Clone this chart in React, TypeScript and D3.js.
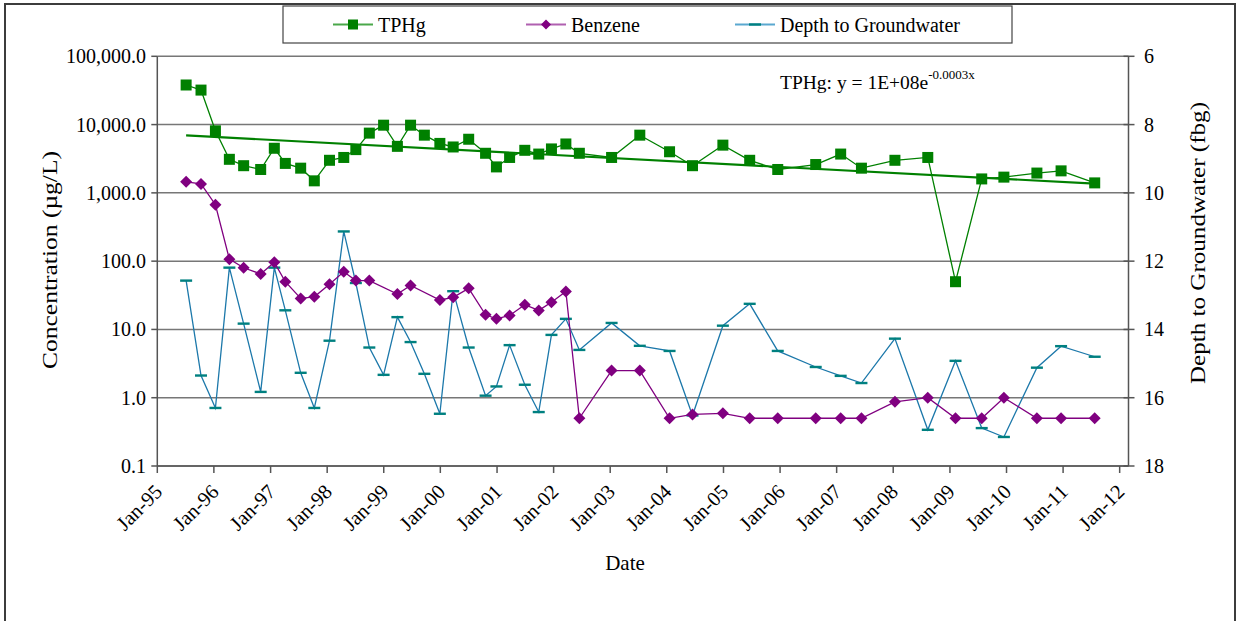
import React from "react";
import * as d3 from "d3";

// Sampling dates shared by all three series
const DATES = [
  "1995-07-06", "1995-10-10", "1996-01-11", "1996-04-10", "1996-07-11", "1996-10-29",
  "1997-01-25", "1997-04-06", "1997-07-14", "1997-10-10", "1998-01-16", "1998-04-18",
  "1998-07-05", "1998-09-30", "1998-12-31", "1999-03-30", "1999-06-23", "1999-09-20",
  "1999-12-29", "2000-03-24", "2000-07-02", "2000-10-19", "2000-12-28", "2001-03-23",
  "2001-06-29", "2001-09-27", "2001-12-18", "2002-03-21", "2002-06-16", "2003-01-10",
  "2003-07-11", "2004-01-19", "2004-06-15", "2004-12-28", "2005-06-19", "2005-12-17",
  "2006-08-19", "2007-01-27", "2007-06-10", "2008-01-12", "2008-08-11", "2009-02-06",
  "2009-07-25", "2009-12-15", "2010-07-16", "2010-12-19", "2011-07-24",
];

// TPHg concentration (µg/L)
const TPHG = [
  38000, 32000, 8100, 3100, 2500, 2200, 4500, 2700, 2300, 1500, 3000, 3300,
  4300, 7500, 9800, 4800, 9800, 7000, 5300, 4700, 6100, 3800, 2400, 3300,
  4200, 3700, 4400, 5200, 3800, 3300, 7000, 4000, 2500, 5000, 3000, 2200,
  2600, 3700, 2300, 3000, 3300, 50, 1600, 1700, 1950, 2100, 1400,
];

// Benzene concentration (µg/L); null = not sampled
const BENZENE: (number | null)[] = [
  1450, 1350, 670, 107, 80, 65, 96, 50, 28.5, 30, 46, 70,
  52, 52, null, 33, 44, null, 27, 29.5, 40, 16.4, 14.3, 16,
  23, 19, 25, 36, 0.5, 2.5, 2.5, 0.5, 0.57, 0.59, 0.5, 0.5,
  0.5, 0.5, 0.5, 0.87, 1.0, 0.5, 0.5, 1.0, 0.5, 0.5, 0.5,
];

// Depth to groundwater (feet below grade)
const DTW = [
  12.57, 15.35, 16.3, 12.19, 13.83, 15.83, 12.19, 13.44, 15.27, 16.3, 14.33, 11.13,
  12.64, 14.53, 15.33, 13.64, 14.37, 15.3, 16.47, 12.88, 14.53, 15.94, 15.67, 14.46,
  15.62, 16.42, 14.16, 13.69, 14.6, 13.81, 14.48, 14.63, 16.52, 13.89, 13.25, 14.63,
  15.1, 15.36, 15.57, 14.27, 16.94, 14.92, 16.89, 17.15, 15.12, 14.49, 14.8,
];

const CONC_TICKS = [0.1, 1, 10, 100, 1000, 10000, 100000];
const DEPTH_TICKS = [6, 8, 10, 12, 14, 16, 18];
const YEARS = d3.range(1995, 2013);

const SERIES_NAMES = ["TPHg", "Benzene", "Depth to Groundwater"];

const W = 1242;
const H = 621;
const PLOT = { left: 157.3, right: 1128.5, top: 56.3, bottom: 466 };

const GREEN = "#008000";
const PURPLE = "#800080";
const DTW_LINE = "#1c78aa";
const DTW_MARK = "#008080";
const GRID = "#777777";
const FONT = "Liberation Serif, serif";

const parse = d3.utcParse("%Y-%m-%d");
const dates = DATES.map((s) => parse(s) as Date);

const x = d3
  .scaleUtc()
  .domain([new Date(Date.UTC(1995, 0, 1)), new Date(Date.UTC(2012, 1, 27))])
  .range([PLOT.left, PLOT.right]);
const yConc = d3.scaleLog().domain([0.1, 100000]).range([PLOT.bottom, PLOT.top]);
const yDepth = d3.scaleLinear().domain([6, 18]).range([PLOT.top, PLOT.bottom]);

type Pt = { d: Date; v: number };
const tphgPts: Pt[] = dates.map((d, i) => ({ d, v: TPHG[i] }));
const benzPts: Pt[] = dates
  .map((d, i) => ({ d, v: BENZENE[i] as number }))
  .filter((p) => p.v != null);
const dtwPts: Pt[] = dates.map((d, i) => ({ d, v: DTW[i] }));

const concLine = d3
  .line<Pt>()
  .x((p) => x(p.d))
  .y((p) => yConc(p.v));
const depthLine = d3
  .line<Pt>()
  .x((p) => x(p.d))
  .y((p) => yDepth(p.v));

// Exponential least-squares fit on ln(TPHg) against Excel serial days
const DAY = 86400000;
const EXCEL_EPOCH = Date.UTC(1899, 11, 30);
const serial = (d: Date) => (d.getTime() - EXCEL_EPOCH) / DAY;
const fit = (() => {
  const xs = tphgPts.map((p) => serial(p.d));
  const ys = tphgPts.map((p) => Math.log(p.v));
  const mx = d3.mean(xs) as number;
  const my = d3.mean(ys) as number;
  let sxy = 0;
  let sxx = 0;
  xs.forEach((xi, i) => {
    sxy += (xi - mx) * (ys[i] - my);
    sxx += (xi - mx) * (xi - mx);
  });
  const b = sxy / sxx;
  const a = Math.exp(my - b * mx);
  return { a, b };
})();
const trendEnds = [tphgPts[0].d, tphgPts[tphgPts.length - 1].d].map((d) => ({
  d,
  v: fit.a * Math.exp(fit.b * serial(d)),
}));

const fmtConc = d3.format(",.1f");
const fmtYear = d3.utcFormat("%b-%y");

const diamond = (r: number) => `M0,${-r}L${r},0L0,${r}L${-r},0Z`;

function Square({ cx, cy }: { cx: number; cy: number }) {
  return <rect x={cx - 5.5} y={cy - 5.5} width={11} height={11} fill={GREEN} />;
}
function Diamond({ cx, cy }: { cx: number; cy: number }) {
  return <path d={diamond(6)} transform={`translate(${cx},${cy})`} fill={PURPLE} />;
}
function Dash({ cx, cy }: { cx: number; cy: number }) {
  return <rect x={cx - 6} y={cy - 1.2} width={12} height={2.4} fill={DTW_MARK} />;
}

const textStyle = { fontFamily: FONT };

export default function App() {
  const legendItems = [
    { name: SERIES_NAMES[0], lx: 333, tx: 378, color: "#4aa84a", mark: "square" },
    { name: SERIES_NAMES[1], lx: 526, tx: 571, color: "#b060b0", mark: "diamond" },
    { name: SERIES_NAMES[2], lx: 735, tx: 780, color: "#5aa8d0", mark: "dash" },
  ];
  const legendY = 24.5;

  return (
    <svg
      width={W}
      height={H}
      style={{ position: "absolute", left: 0, top: 0, background: "#fff", fontFamily: FONT }}
    >
      {/* outer frame */}
      <rect x={5} y={4} width={1230} height={660} fill="none" stroke="#3c3c3c" strokeWidth={2} />

      {/* legend */}
      <rect x={283} y={6} width={729} height={37} fill="#fff" stroke="#444" strokeWidth={1.2} />
      {legendItems.map((it) => (
        <g key={it.name}>
          <line x1={it.lx} x2={it.lx + 40} y1={legendY} y2={legendY} stroke={it.color} strokeWidth={2} />
          {it.mark === "square" && (
            <rect x={it.lx + 15} y={legendY - 5} width={10} height={10} fill={GREEN} />
          )}
          {it.mark === "diamond" && (
            <path d={diamond(5)} transform={`translate(${it.lx + 20},${legendY})`} fill={PURPLE} />
          )}
          {it.mark === "dash" && (
            <rect x={it.lx + 14} y={legendY - 1.2} width={12} height={2.4} fill={DTW_MARK} />
          )}
          <text x={it.tx} y={legendY} dy="0.35em" fontSize={20} fill="#000" style={textStyle}>
            {it.name}
          </text>
        </g>
      ))}

      {/* horizontal gridlines */}
      {CONC_TICKS.map((t) => (
        <line
          key={t}
          x1={PLOT.left}
          x2={PLOT.right}
          y1={yConc(t)}
          y2={yConc(t)}
          stroke={GRID}
          strokeWidth={1.5}
        />
      ))}

      {/* axes lines */}
      <line x1={PLOT.left} x2={PLOT.left} y1={PLOT.top} y2={PLOT.bottom} stroke="#555" strokeWidth={1.5} />
      <line x1={PLOT.right} x2={PLOT.right} y1={PLOT.top} y2={PLOT.bottom} stroke="#555" strokeWidth={1.5} />
      <line x1={PLOT.left} x2={PLOT.right} y1={PLOT.bottom} y2={PLOT.bottom} stroke="#555" strokeWidth={1.5} />

      {/* left axis ticks and labels */}
      {CONC_TICKS.map((t) => (
        <g key={t} transform={`translate(0,${yConc(t)})`}>
          <line x1={PLOT.left - 6} x2={PLOT.left} stroke="#555" strokeWidth={1.5} />
          <text x={146} dy="0.35em" textAnchor="end" fontSize={20} fill="#000" style={textStyle}>
            {fmtConc(t)}
          </text>
        </g>
      ))}

      {/* right axis ticks and labels */}
      {DEPTH_TICKS.map((t) => (
        <g key={t} transform={`translate(0,${yDepth(t)})`}>
          <line x1={PLOT.right - 5} x2={PLOT.right + 6} stroke="#555" strokeWidth={1.5} />
          <text x={1144} dy="0.35em" textAnchor="start" fontSize={20} fill="#000" style={textStyle}>
            {t}
          </text>
        </g>
      ))}

      {/* bottom axis ticks and labels */}
      {YEARS.map((yr) => {
        const d = new Date(Date.UTC(yr, 0, 1));
        const px = x(d);
        return (
          <g key={yr}>
            <line x1={px} x2={px} y1={PLOT.bottom} y2={PLOT.bottom + 7} stroke="#555" strokeWidth={1.5} />
            <text
              transform={`translate(${px + 1},${PLOT.bottom + 22}) rotate(-45)`}
              textAnchor="end"
              dy="0.35em"
              fontSize={20.5}
              fill="#000"
              style={textStyle}
            >
              {fmtYear(d)}
            </text>
          </g>
        );
      })}

      {/* axis titles */}
      <text
        transform={`translate(57,260) rotate(-90)`}
        textAnchor="middle"
        fontSize={21}
        textLength={218}
        lengthAdjust="spacingAndGlyphs"
        fill="#000"
        style={textStyle}
      >
        Concentration (µg/L)
      </text>
      <text
        transform={`translate(1205,243) rotate(-90)`}
        textAnchor="middle"
        fontSize={21}
        textLength={282}
        lengthAdjust="spacingAndGlyphs"
        fill="#000"
        style={textStyle}
      >
        Depth to Groundwater (fbg)
      </text>
      <text x={625} y={570} textAnchor="middle" fontSize={21} fill="#000" style={textStyle}>
        Date
      </text>

      {/* trend equation */}
      <text x={780} y={89} fontSize={19.5} fill="#000" style={textStyle}>
        TPHg: y = 1E+08e
        <tspan dy={-10} fontSize={13}>
          -0.0003x
        </tspan>
      </text>

      {/* depth to groundwater */}
      <path d={depthLine(dtwPts) || ""} fill="none" stroke={DTW_LINE} strokeWidth={1.3} />
      {dtwPts.map((p, i) => (
        <Dash key={i} cx={x(p.d)} cy={yDepth(p.v)} />
      ))}

      {/* benzene */}
      <path d={concLine(benzPts) || ""} fill="none" stroke={PURPLE} strokeWidth={1.3} />
      {benzPts.map((p, i) => (
        <Diamond key={i} cx={x(p.d)} cy={yConc(p.v)} />
      ))}

      {/* TPHg */}
      <path d={concLine(tphgPts) || ""} fill="none" stroke={GREEN} strokeWidth={1.3} />
      {tphgPts.map((p, i) => (
        <Square key={i} cx={x(p.d)} cy={yConc(p.v)} />
      ))}

      {/* TPHg exponential trend */}
      <path d={concLine(trendEnds) || ""} fill="none" stroke={GREEN} strokeWidth={2.2} />
    </svg>
  );
}
